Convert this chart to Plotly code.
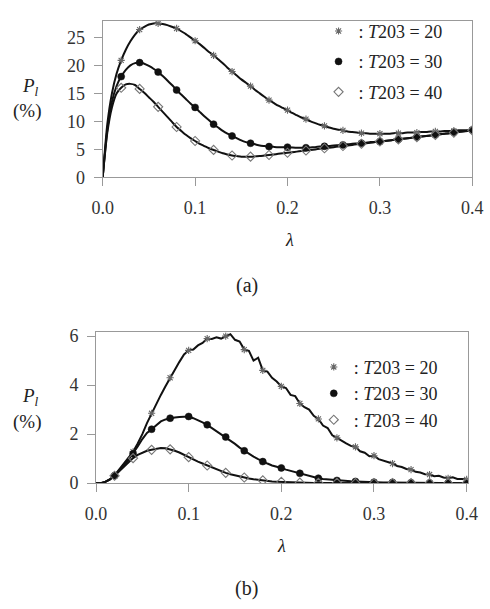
import numpy as np
import plotly.graph_objects as go

# lambda sampling grid (step 0.005, 0 .. 0.4)
lam = np.round(np.arange(81) * 0.005, 3)

# ---- panel (a) ----
a_t20 = [0, 9.5, 15.0, 18.5, 20.9, 22.8, 24.3, 25.5, 26.4, 26.9,
         27.3, 27.5, 27.5, 27.4, 27.2, 26.9, 26.6, 26.1, 25.6, 25.0,
         24.4, 23.8, 23.1, 22.4, 21.8, 21.1, 20.4, 19.6, 18.9, 18.2,
         17.5, 16.9, 16.3, 15.6, 15.0, 14.4, 13.8, 13.3, 12.8, 12.4,
         12.0, 11.5, 11.1, 10.7, 10.4, 10.0, 9.7, 9.4, 9.2, 8.9,
         8.7, 8.5, 8.4, 8.2, 8.1, 8.0, 7.9, 7.9, 7.8, 7.8,
         7.8, 7.8, 7.8, 7.9, 7.9, 7.9, 8.0, 8.0, 8.0, 8.1,
         8.1, 8.2, 8.2, 8.2, 8.3, 8.3, 8.3, 8.4, 8.4, 8.4, 8.5]
a_t30 = [0, 8.5, 13.5, 16.3, 18.0, 19.2, 20.0, 20.4, 20.5, 20.3,
         19.9, 19.4, 18.8, 18.1, 17.3, 16.5, 15.6, 14.8, 14.0, 13.2,
         12.5, 11.7, 10.9, 10.2, 9.5, 8.9, 8.3, 7.8, 7.4, 7.0,
         6.6, 6.3, 6.1, 5.9, 5.7, 5.6, 5.5, 5.45, 5.4, 5.4,
         5.4, 5.35, 5.3, 5.3, 5.3, 5.35, 5.4, 5.5, 5.55, 5.6,
         5.7, 5.75, 5.8, 5.9, 6.0, 6.05, 6.1, 6.2, 6.3, 6.35,
         6.4, 6.5, 6.6, 6.7, 6.8, 6.9, 7.0, 7.1, 7.2, 7.3,
         7.4, 7.5, 7.6, 7.7, 7.8, 7.9, 8.05, 8.15, 8.25, 8.35, 8.45]
a_t40 = [0, 8.0, 12.5, 15.0, 16.0, 16.6, 16.7, 16.5, 15.8, 15.1,
         14.3, 13.5, 12.6, 11.7, 10.8, 9.9, 9.0, 8.3, 7.6, 7.0,
         6.5, 6.0, 5.6, 5.2, 4.9, 4.6, 4.3, 4.1, 3.9, 3.8,
         3.7, 3.7, 3.7, 3.75, 3.8, 3.9, 4.0, 4.1, 4.2, 4.3,
         4.4, 4.5, 4.6, 4.7, 4.8, 4.9, 5.0, 5.1, 5.2, 5.3,
         5.4, 5.5, 5.6, 5.7, 5.8, 5.9, 6.0, 6.1, 6.2, 6.3,
         6.4, 6.5, 6.6, 6.7, 6.8, 6.9, 7.0, 7.1, 7.2, 7.3,
         7.4, 7.5, 7.6, 7.7, 7.8, 7.9, 8.0, 8.1, 8.2, 8.3, 8.4]

# ---- panel (b) ----
b_t20 = [0.0, 0.0, 0.05, 0.15, 0.32, 0.55, 0.78, 1.02, 1.28, 1.62,
         2.0, 2.45, 2.85, 3.25, 3.6, 3.95, 4.3, 4.6, 4.95, 5.25,
         5.42, 5.45, 5.62, 5.72, 5.9, 5.88, 5.95, 5.9, 6.0, 6.08,
         5.85, 5.78, 5.45, 5.4, 5.0, 5.12, 4.6, 4.55, 4.3, 4.15,
         3.95, 3.88, 3.6, 3.55, 3.25, 3.1, 3.0, 2.75, 2.62, 2.35,
         2.25, 1.95, 1.85, 1.72, 1.62, 1.52, 1.48, 1.3, 1.24, 1.1,
         1.12, 0.98, 0.92, 0.85, 0.8, 0.7, 0.66, 0.58, 0.55, 0.46,
         0.43, 0.36, 0.35, 0.28, 0.3, 0.23, 0.2, 0.24, 0.17, 0.17, 0.15]
b_t30 = [0.0, 0.0, 0.05, 0.15, 0.3, 0.5, 0.72, 0.95, 1.2, 1.5,
         1.8, 2.05, 2.2, 2.38, 2.52, 2.6, 2.65, 2.68, 2.7, 2.72,
         2.72, 2.65, 2.58, 2.48, 2.38, 2.25, 2.12, 2.0, 1.88, 1.75,
         1.6, 1.45, 1.32, 1.2, 1.08, 0.98, 0.88, 0.8, 0.72, 0.68,
         0.62, 0.55, 0.5, 0.45, 0.4, 0.33, 0.28, 0.24, 0.2, 0.17,
         0.15, 0.13, 0.11, 0.1, 0.09, 0.08, 0.07, 0.06, 0.05, 0.05,
         0.04, 0.04, 0.03, 0.03, 0.03, 0.02, 0.02, 0.02, 0.02, 0.01,
         0.01, 0.01, 0.01, 0.01, 0.01, 0.01, 0.0, 0.0, 0.0, 0.0, 0.0]
b_t40 = [0.0, 0.0, 0.05, 0.15, 0.3, 0.48, 0.68, 0.88, 1.02, 1.15,
         1.25, 1.32, 1.36, 1.4, 1.43, 1.42, 1.38, 1.32, 1.25, 1.15,
         1.06, 0.97, 0.88, 0.8, 0.72, 0.63, 0.55, 0.48, 0.42, 0.36,
         0.31, 0.27, 0.23, 0.19, 0.16, 0.13, 0.11, 0.09, 0.07, 0.06,
         0.05, 0.04, 0.03, 0.03, 0.02, 0.02, 0.02, 0.01, 0.01, 0.01,
         0.01, 0.01, 0.01, 0.0, 0.0, 0.0, 0.0, 0.0, 0.0, 0.0,
         0.0, 0.0, 0.0, 0.0, 0.0, 0.0, 0.0, 0.0, 0.0, 0.0,
         0.0, 0.0, 0.0, 0.0, 0.0, 0.0, 0.0, 0.0, 0.0, 0.0, 0.0]

for s in (a_t20, a_t30, a_t40, b_t20, b_t30, b_t40):
    assert len(s) == len(lam), len(s)

series_names = [": <i>T</i>203 = 20", ": <i>T</i>203 = 30", ": <i>T</i>203 = 40"]
panel_labels = ["(a)", "(b)"]
x_ticks = [0.0, 0.1, 0.2, 0.3, 0.4]
x_ticktext = ["0.0", "0.1", "0.2", "0.3", "0.4"]
a_yticks = [0, 5, 10, 15, 20, 25]
b_yticks = [0, 2, 4, 6]

marker_styles = [
    dict(symbol="asterisk-open", size=6, color="#666", line=dict(width=1.1, color="#666")),
    dict(symbol="circle", size=7, color="#111", line=dict(width=0.5, color="#111")),
    dict(symbol="diamond-open", size=7, color="#777", line=dict(width=1.1, color="#777")),
]

SERIF = "Liberation Serif, Times New Roman, DejaVu Serif, serif"
fig = go.Figure()

panels = [
    ("x", "y", "legend", [a_t20, a_t30, a_t40], "spline"),
    ("x2", "y2", "legend2", [b_t20, b_t30, b_t40], "linear"),
]

idx = np.arange(4, len(lam), 4)
for xa, ya, lg, data, shape in panels:
    for k, vals in enumerate(data):
        v = np.array(vals)
        fig.add_trace(go.Scatter(x=lam, y=v, mode="lines", xaxis=xa, yaxis=ya,
                                 line=dict(color="#111", width=2, shape=shape, smoothing=0.6),
                                 showlegend=False, hoverinfo="skip"))
        fig.add_trace(go.Scatter(x=lam[idx], y=v[idx], mode="markers", xaxis=xa, yaxis=ya,
                                 marker=marker_styles[k], name=series_names[k],
                                 legend=lg, legendgroup=f"{lg}{k}", showlegend=True))

axis_common = dict(showline=True, mirror=True, linecolor="#999", linewidth=1,
                   ticks="outside", ticklen=8, tickcolor="#999", tickwidth=1,
                   showgrid=False, zeroline=False,
                   tickfont=dict(family=SERIF, size=18, color="#333"))

fig.update_layout(
    width=490, height=609, margin=dict(l=0, r=0, t=0, b=0),
    paper_bgcolor="white", plot_bgcolor="white",
    font=dict(family=SERIF),
    xaxis=dict(domain=[96/490, 483/490], range=[0, 0.4], tickvals=x_ticks, ticktext=x_ticktext,
               anchor="y", ticklabelstandoff=6, **axis_common),
    yaxis=dict(domain=[1-176/609, 1-15/609], range=[0, 28.0], tickvals=a_yticks,
               anchor="x", ticklabelstandoff=5, **axis_common),
    xaxis2=dict(domain=[89/490, 479/490], range=[0, 0.402], tickvals=x_ticks, ticktext=x_ticktext,
                anchor="y2", ticklabelstandoff=6, **axis_common),
    yaxis2=dict(domain=[1-490/609, 1-335/609], range=[0, 6.16], tickvals=b_yticks,
                anchor="x2", ticklabelstandoff=5, **axis_common),
    legend=dict(x=322/490, y=1-7/609, xanchor="left", yanchor="top", bgcolor="rgba(0,0,0,0)",
                font=dict(family=SERIF, size=18, color="#222"), itemwidth=30,
                tracegroupgap=4),
    legend2=dict(x=317/490, y=1-352/609, xanchor="left", yanchor="top", bgcolor="rgba(0,0,0,0)",
                 font=dict(family=SERIF, size=18, color="#222"), itemwidth=30,
                 tracegroupgap=0),
    showlegend=True,
)

ann = []
for (px, py, txt, size) in [
    (20, 83, "<i>P</i><sub><i>l</i></sub>", 19),
    (17, 108, "(%)", 19),
    (20, 402, "<i>P</i><sub><i>l</i></sub>", 19),
    (17, 427, "(%)", 19),
    (292, 240, "<i>λ</i>", 18),
    (283, 555, "<i>λ</i>", 18),
    (247, 287, panel_labels[0], 20),
    (247, 598, panel_labels[1], 20),
]:
    ann.append(dict(x=px/490, y=1-py/609, xref="paper", yref="paper", text=txt,
                    showarrow=False, xanchor="center", yanchor="middle",
                    font=dict(family=SERIF, size=size, color="#222")))
fig.update_layout(annotations=ann)

fig.write_html("out.html")
